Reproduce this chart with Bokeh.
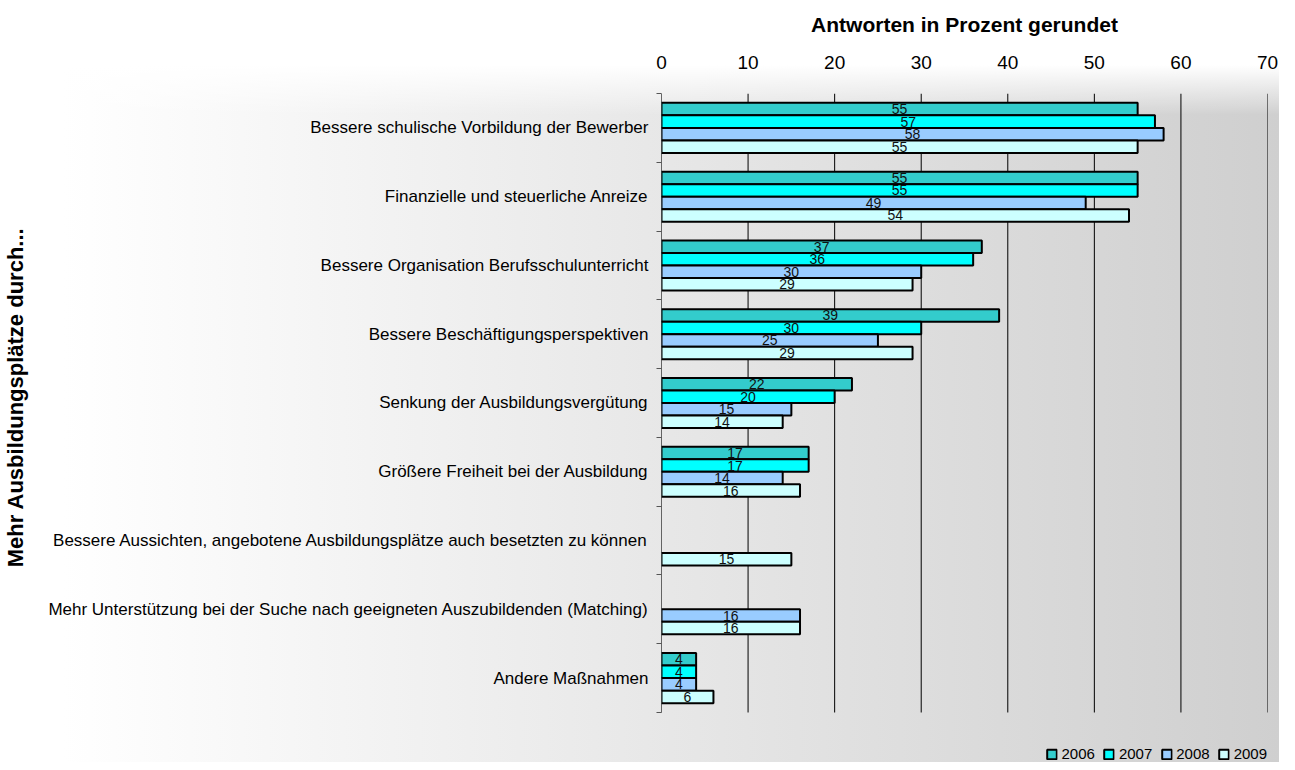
from bokeh.plotting import figure
from bokeh.models import (ColumnDataSource, Range1d, FixedTicker, Legend, LegendItem, LabelSet)
from bokeh.core.properties import value
from bokeh.embed import file_html
from bokeh.resources import INLINE

categories = [
    "Bessere schulische Vorbildung der Bewerber",
    "Finanzielle und steuerliche Anreize",
    "Bessere Organisation Berufsschulunterricht",
    "Bessere Beschäftigungsperspektiven",
    "Senkung der Ausbildungsvergütung",
    "Größere Freiheit bei der Ausbildung",
    "Bessere Aussichten, angebotene Ausbildungsplätze auch besetzten zu können",
    "Mehr Unterstützung bei der Suche nach geeigneten Auszubildenden (Matching)",
    "Andere Maßnahmen",
]
years = ["2006", "2007", "2008", "2009"]
v2006 = [55, 55, 37, 39, 22, 17, None, None, 4]
v2007 = [57, 55, 36, 30, 20, 17, None, None, 4]
v2008 = [58, 49, 30, 25, 15, 14, None, 16, 4]
v2009 = [55, 54, 29, 29, 14, 16, 15, 16, 6]
series = [v2006, v2007, v2008, v2009]
colors = ["#33CCCC", "#00FFFF", "#99CCFF", "#CCFFFF"]
x_ticks = [0, 10, 20, 30, 40, 50, 60, 70]

FONT = "Liberation Sans"
n = len(categories)
bar_h = 0.182
extra = 0.727  # room below the last category for the legend

p = figure(width=1279, height=762, output_backend="svg", toolbar_location=None,
           x_range=Range1d(0, 70), y_range=Range1d(n + extra, 0),
           x_axis_location="above",
           min_border_left=655, min_border_right=12, min_border_top=93, min_border_bottom=0)
p.background_fill_alpha = 0
p.border_fill_alpha = 0
p.outline_line_color = None
p.styles = {"background": "linear-gradient(to bottom, #ffffff 0px, #ffffff 65px, rgba(255,255,255,0) 115px), linear-gradient(to right, #ffffff 0%, #ffffff 5%, #cfcfcf 100%)"}

# vertical grid lines (only over the category area)
p.segment(x0=x_ticks, x1=x_ticks, y0=[0] * len(x_ticks), y1=[n] * len(x_ticks),
          line_color="black", line_width=1)
# y axis line
p.segment(x0=[0], x1=[0], y0=[0], y1=[n], line_color="#555555", line_width=1)

items = []
for k, (vals, col, yr) in enumerate(zip(series, colors, years)):
    ys, xs, lbl = [], [], []
    for i, v in enumerate(vals):
        if v is None:
            continue
        ys.append(i + 0.5 + (k - 1.5) * bar_h)
        xs.append(v)
        lbl.append(str(v))
    src = ColumnDataSource(dict(y=ys, right=xs, mid=[x / 2 for x in xs], lbl=lbl))
    r = p.hbar(y="y", left=0, right="right", height=bar_h, source=src,
               fill_color=col, line_color="black", line_width=2)
    p.add_layout(LabelSet(x="mid", y="y", text="lbl", source=src,
                          text_align="center", text_baseline="middle",
                          text_font=value(FONT), text_font_size="14px", text_color="#111111"))
    items.append(LegendItem(label=yr, renderers=[r]))

# x axis (top)
xa = p.xaxis[0]
xa.ticker = FixedTicker(ticks=x_ticks)
xa.axis_label = "Antworten in Prozent gerundet"
xa.axis_label_text_font = FONT
xa.axis_label_text_font_style = "bold"
xa.axis_label_text_font_size = "21px"
xa.axis_label_text_color = "black"
xa.axis_label_standoff = 17
xa.major_label_text_font = FONT
xa.major_label_text_font_size = "19px"
xa.major_label_text_color = "black"
xa.major_label_standoff = 19
xa.axis_line_color = None
xa.major_tick_line_color = None
xa.minor_tick_line_color = None

# y axis (left)
ya = p.yaxis[0]
ya.ticker = FixedTicker(ticks=[i + 0.5 for i in range(n)], minor_ticks=list(range(n + 1)))
ya.major_label_overrides = {i + 0.5: c for i, c in enumerate(categories)}
ya.major_label_text_font = FONT
ya.major_label_text_font_size = "17px"
ya.major_label_text_color = "black"
ya.major_label_standoff = 7
ya.major_tick_line_color = None
ya.minor_tick_out = 5
ya.minor_tick_in = 0
ya.minor_tick_line_color = "#555555"
ya.axis_line_color = None
ya.axis_label = "\u00a0" * 10 + "Mehr Ausbildungsplätze durch..."
ya.axis_label_text_font = FONT
ya.axis_label_text_font_style = "bold"
ya.axis_label_text_font_size = "22px"
ya.axis_label_text_color = "black"
ya.axis_label_standoff = 17

p.xgrid.grid_line_color = None
p.ygrid.grid_line_color = None

legend = Legend(items=items, orientation="horizontal", location="bottom_right",
                label_text_font=FONT, label_text_font_size="15px", label_text_color="black",
                glyph_width=12, glyph_height=12, label_standoff=4, spacing=8,
                padding=0, margin=0, border_line_color=None, background_fill_alpha=0,
                label_height=14)
p.add_layout(legend)

open("out.html", "w").write(file_html(p, INLINE))
